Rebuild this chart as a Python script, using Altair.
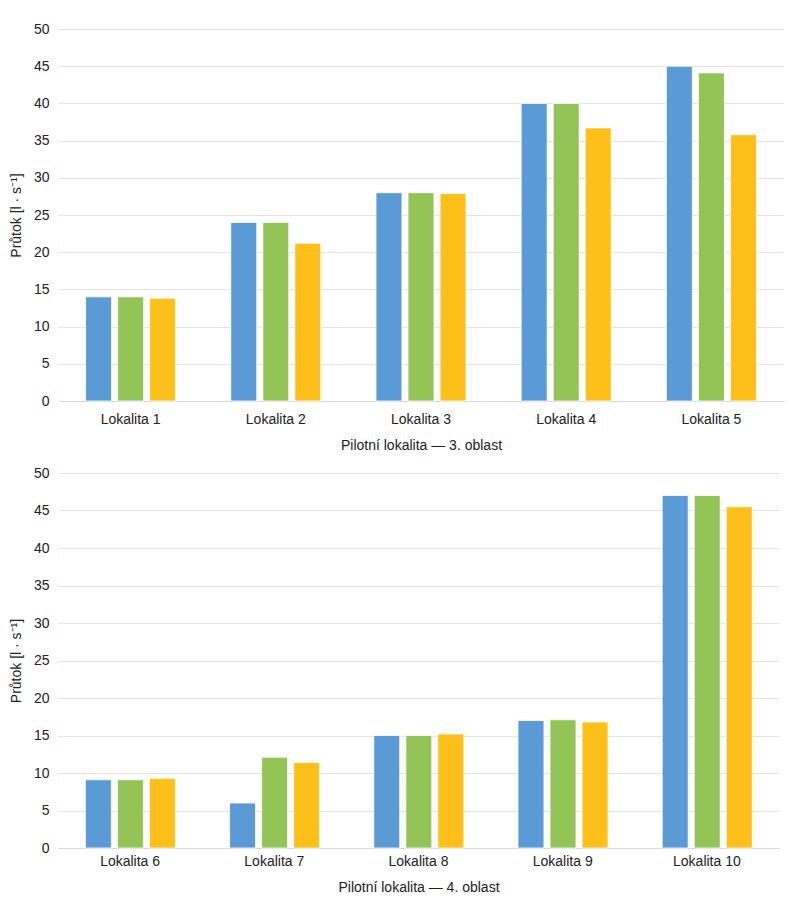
import altair as alt
import pandas as pd

cats_top = ["Lokalita 1", "Lokalita 2", "Lokalita 3", "Lokalita 4", "Lokalita 5"]
s1_top = [14.0, 24.0, 28.0, 40.0, 45.0]
s2_top = [14.0, 24.0, 28.0, 40.0, 44.1]
s3_top = [13.8, 21.2, 27.9, 36.7, 35.8]

cats_bot = ["Lokalita 6", "Lokalita 7", "Lokalita 8", "Lokalita 9", "Lokalita 10"]
s1_bot = [9.1, 6.0, 15.0, 17.0, 47.0]
s2_bot = [9.1, 12.1, 15.0, 17.1, 47.0]
s3_bot = [9.3, 11.4, 15.2, 16.8, 45.5]

series = ["Řada 1", "Řada 2", "Řada 3"]
colors = ["#5B9BD5", "#94C356", "#FDC01A"]
y_ticks = [0, 5, 10, 15, 20, 25, 30, 35, 40, 45, 50]

FONT = "Liberation Sans"


def make_df(cats, a, b, c):
    rows = []
    for i, cat in enumerate(cats):
        for s, vals in zip(series, (a, b, c)):
            rows.append({"cat": cat, "series": s, "value": vals[i]})
    return pd.DataFrame(rows)


def panel(cats, a, b, c, xtitle, width, height, label_pad):
    df = make_df(cats, a, b, c)
    return alt.Chart(df).mark_bar(stroke="white", strokeWidth=0.8).encode(
        x=alt.X("cat:N", sort=cats, title=xtitle,
                scale=alt.Scale(paddingInner=0.38, paddingOuter=0.19),
                axis=alt.Axis(labelAngle=0, ticks=False, domain=True, domainColor="#d9d9d9",
                              grid=False,
                              labelPadding=label_pad, titlePadding=12, labelFontSize=14,
                              titleFontSize=14, titleFontWeight="normal",
                              labelColor="#222222", titleColor="#222222",
                              labelFont=FONT, titleFont=FONT)),
        xOffset=alt.XOffset("series:N", sort=series,
                            scale=alt.Scale(paddingInner=0.19, paddingOuter=0)),
        y=alt.Y("value:Q", title="Průtok [l · s⁻¹]",
                scale=alt.Scale(domain=[0, 50], nice=False),
                axis=alt.Axis(values=y_ticks, ticks=False, domain=False, grid=True,
                              gridColor="#e3e3e3", labelPadding=9, titlePadding=10,
                              labelFontSize=14, titleFontSize=14, titleFontWeight="normal",
                              labelColor="#222222", titleColor="#222222",
                              labelFont=FONT, titleFont=FONT)),
        color=alt.Color("series:N", sort=series,
                        scale=alt.Scale(domain=series, range=colors), legend=None),
    ).properties(width=width, height=height)


top = panel(cats_top, s1_top, s2_top, s3_top, "Pilotní lokalita — 3. oblast", 726, 372, 11)
bot = panel(cats_bot, s1_bot, s2_bot, s3_bot, "Pilotní lokalita — 4. oblast", 721, 375, 6)

chart = alt.vconcat(top, bot, spacing=14).properties(
    padding={"top": 14, "left": 1, "right": 5, "bottom": 5}
).configure(font=FONT).configure_view(strokeWidth=0, stroke="transparent")

chart.save("out.html", embed_options={"renderer": "svg", "actions": False})
